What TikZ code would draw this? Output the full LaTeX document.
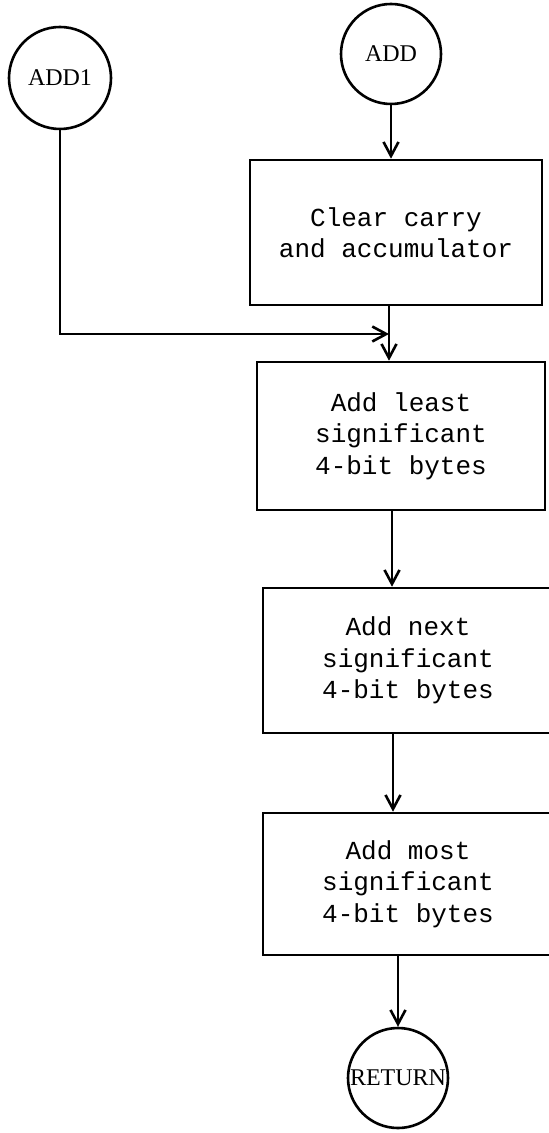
\documentclass[tikz,border=0pt]{standalone}
\usepackage{fontspec}
\setmainfont{Liberation Serif}
\setmonofont{Liberation Mono}
\usepackage{tikz}
\usetikzlibrary{shapes,arrows.meta}
\tikzstyle{block} = [rectangle, draw, line width=1.3pt, text width=135pt,
    align=flush center, inner sep=0pt, font=\ttfamily\fontsize{13}{15.75}\selectfont]
\tikzstyle{terminal} = [circle, draw, line width=1.3pt, inner sep=0pt,
    minimum size=50pt, font=\fontsize{12}{14}\selectfont]
\tikzstyle{line} = [draw, line width=1.3pt]
\tikzstyle{arrow} = [draw, line width=1.3pt, -{Straight Barb[length=7pt,width=7.5pt]}]

\begin{document}
\begin{tikzpicture}[x=0.5pt, y=-0.5pt]
    \useasboundingbox (0,0) rectangle (549,1133);
    \node[terminal, minimum size=51pt] (add1) at (60,78) {ADD1};
    \node[terminal] (add) at (391,54) {ADD};
    \node[block, minimum width=146pt, minimum height=72.5pt] (clear) at (396,232.5)
        {Clear carry\\and accumulator};
    \node[block, minimum width=144pt, minimum height=74pt] (least) at (401,436)
        {Add least\\significant\\4-bit bytes};
    \node[block, minimum width=145pt, minimum height=72.5pt] (next) at (408,660.5)
        {Add next\\significant\\4-bit bytes};
    \node[block, minimum width=145pt, minimum height=71pt] (most) at (408,884)
        {Add most\\significant\\4-bit bytes};
    \node[terminal] (ret) at (398,1078) {RETURN};
    \coordinate (join) at (389,334);

    \path[arrow] (add) -- (clear.north -| add);
    \path[line] (clear.south -| join) -- (join);
    \path[arrow] (add1) |- (join);
    \path[arrow] (join) -- (least.north -| join);
    \path[arrow] ([xshift=1.5pt]least.south -| join) -- ([xshift=1.5pt]next.north -| join);
    \path[arrow] ([xshift=2pt]next.south -| join) -- ([xshift=2pt]most.north -| join);
    \path[arrow] (most.south -| ret) -- (ret);
\end{tikzpicture}
\end{document}
